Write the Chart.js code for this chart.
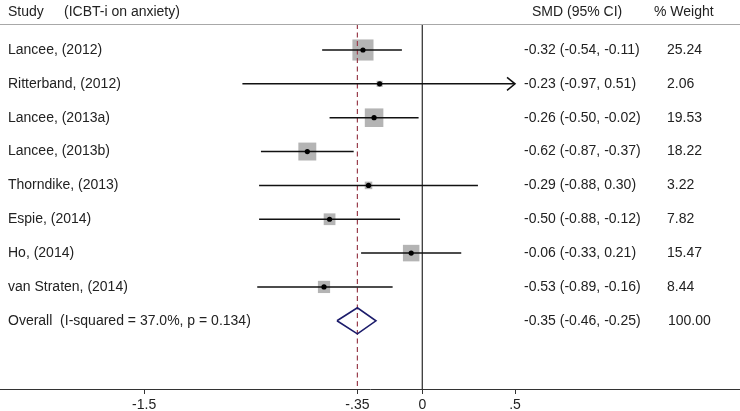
<!DOCTYPE html>
<html>
<head>
<meta charset="utf-8">
<script src="https://cdn.jsdelivr.net/npm/chart.js@4.4.1/dist/chart.umd.min.js"></script>
<style>
  html, body { margin: 0; padding: 0; background: #fff; }
  #wrap { width: 740px; height: 411px; position: relative; }
</style>
</head>
<body>
<div id="wrap"><canvas id="c" width="740" height="411"></canvas></div>
<script>
// ---- data ----
const studies = ['Lancee, (2012)', 'Ritterband, (2012)', 'Lancee, (2013a)', 'Lancee, (2013b)',
                 'Thorndike, (2013)', 'Espie, (2014)', 'Ho, (2014)', 'van Straten, (2014)'];
const smd   = [-0.32, -0.23, -0.26, -0.62, -0.29, -0.50, -0.06, -0.53];
const ciLow = [-0.54, -0.97, -0.50, -0.87, -0.88, -0.88, -0.33, -0.89];
const ciHigh= [-0.11,  0.51, -0.02, -0.37,  0.30, -0.12,  0.21, -0.16];
const weights = [25.24, 2.06, 19.53, 18.22, 3.22, 7.82, 15.47, 8.44];
const overallLabel = 'Overall  (I-squared = 37.0%, p = 0.134)';
const overallEst = -0.35, overallLow = -0.46, overallHigh = -0.25, overallWeight = 100.00;
const tickValues = [-1.5, -0.35, 0, 0.5];
const tickLabels = ['-1.5', '-.35', '0', '.5'];
const headerStudy = 'Study', headerSub = '(ICBT-i on anxiety)';
const headerSMD = 'SMD (95% CI)', headerWeight = '% Weight';

// ---- layout constants ----
const X_MIN = -2.277, X_MAX = 1.713, CI_CAP = 0.5;
const Y_MIN = -1.477, Y_MAX = 10.015;
const HEADER_ROW = -1.12, HEADER_LINE = -0.768;
const OVERALL_ROW = studies.length;
const FONT_FAMILY = '"Liberation Sans", Arial, sans-serif';
const FONT = '14px ' + FONT_FAMILY;
const TXT = '#222';

const fmt = v => v.toFixed(2);

const datasets = [];
// boxes (behind)
const boxR = ctx => { const w = ctx.raw ? ctx.raw.w : 1; return (4.2 * Math.sqrt(w)) / Math.SQRT2; };
datasets.push({
  type: 'scatter', order: 5,
  data: smd.map((v, i) => ({ x: v, y: i, w: weights[i] })),
  pointStyle: 'rect',
  backgroundColor: '#b4b4b4', borderColor: '#b4b4b4', borderWidth: 0,
  pointRadius: boxR, pointHoverRadius: boxR
});
// CI lines
smd.forEach((v, i) => {
  datasets.push({
    type: 'line', order: 3,
    data: [{ x: ciLow[i], y: i }, { x: Math.min(ciHigh[i], CI_CAP), y: i }],
    borderColor: '#111', borderWidth: 1.5, pointRadius: 0, fill: false
  });
});
// point estimates
datasets.push({
  type: 'scatter', order: 1,
  data: smd.map((v, i) => ({ x: v, y: i })),
  pointStyle: 'circle', backgroundColor: '#000', borderColor: '#000', borderWidth: 0,
  pointRadius: 2.6
});
// zero line
datasets.push({
  type: 'line', order: 4,
  data: [{ x: 0, y: HEADER_LINE }, { x: 0, y: Y_MAX }],
  borderColor: '#3a3a3a', borderWidth: 1.3, pointRadius: 0
});
// overall dashed line
datasets.push({
  type: 'line', order: 4,
  data: [{ x: overallEst, y: HEADER_LINE }, { x: overallEst, y: Y_MAX }],
  borderColor: '#9a3e4c', borderWidth: 1.2, borderDash: [5, 3.5], pointRadius: 0
});
// overall diamond
const dh = 0.385;
datasets.push({
  type: 'line', order: 2,
  data: [{ x: overallLow, y: OVERALL_ROW }, { x: overallEst, y: OVERALL_ROW - dh },
         { x: overallHigh, y: OVERALL_ROW }, { x: overallEst, y: OVERALL_ROW + dh },
         { x: overallLow, y: OVERALL_ROW }],
  borderColor: '#1c1c6b', borderWidth: 1.6, pointRadius: 0, fill: false, tension: 0
});

const textPlugin = {
  id: 'forestText',
  afterDatasetsDraw(chart) {
    const ctx = chart.ctx, ys = chart.scales.y, xs = chart.scales.x;
    ctx.save();
    // header separator
    const hy = Math.round(ys.getPixelForValue(HEADER_LINE)) + 0.5;
    ctx.strokeStyle = '#a8a8a8'; ctx.lineWidth = 1;
    ctx.beginPath(); ctx.moveTo(0, hy); ctx.lineTo(chart.width, hy); ctx.stroke();
    // arrows for truncated CIs
    ctx.strokeStyle = '#111'; ctx.lineWidth = 1.5;
    ciHigh.forEach((h, i) => {
      if (h > CI_CAP) {
        const px = xs.getPixelForValue(CI_CAP), py = ys.getPixelForValue(i);
        ctx.beginPath(); ctx.moveTo(px - 8, py - 6.5); ctx.lineTo(px, py); ctx.lineTo(px - 8, py + 6.5); ctx.stroke();
      }
    });
    ctx.fillStyle = TXT; ctx.font = FONT; ctx.textBaseline = 'middle'; ctx.textAlign = 'left';
    const hRow = ys.getPixelForValue(HEADER_ROW);
    ctx.fillText(headerStudy, 8, hRow);
    ctx.fillText(headerSub, 64, hRow);
    ctx.fillText(headerSMD, 532, hRow);
    ctx.fillText(headerWeight, 654, hRow);
    studies.forEach((s, i) => {
      const py = ys.getPixelForValue(i);
      ctx.fillText(s, 8, py);
      ctx.fillText(fmt(smd[i]) + ' (' + fmt(ciLow[i]) + ', ' + fmt(ciHigh[i]) + ')', 524, py);
      ctx.fillText(fmt(weights[i]), 667, py);
    });
    const oy = ys.getPixelForValue(OVERALL_ROW);
    ctx.fillText(overallLabel, 8, oy);
    ctx.fillText(fmt(overallEst) + ' (' + fmt(overallLow) + ', ' + fmt(overallHigh) + ')', 524, oy);
    ctx.fillText(fmt(overallWeight), 668, oy);
    ctx.restore();
  }
};

new Chart(document.getElementById('c'), {
  data: { datasets },
  options: {
    responsive: false, animation: false, devicePixelRatio: 1,
    layout: { padding: 0, autoPadding: false },
    plugins: { legend: { display: false }, tooltip: { enabled: false } },
    scales: {
      x: {
        type: 'linear', min: X_MIN, max: X_MAX,
        afterBuildTicks: s => { s.ticks = tickValues.map(v => ({ value: v })); },
        afterFit: s => { s.height = 22; s.paddingLeft = 0; s.paddingRight = 0; },
        ticks: {
          autoSkip: false, maxRotation: 0, padding: 3, color: TXT,
          font: { family: FONT_FAMILY, size: 14 },
          callback: (v, i) => tickLabels[i]
        },
        grid: { display: true, drawOnChartArea: false, drawTicks: true, tickLength: 5, color: '#333', lineWidth: 1 },
        border: { display: true, color: '#333', width: 1 }
      },
      y: { type: 'linear', display: false, reverse: true, min: Y_MIN, max: Y_MAX }
    }
  },
  plugins: [textPlugin]
});
</script>
</body>
</html>
